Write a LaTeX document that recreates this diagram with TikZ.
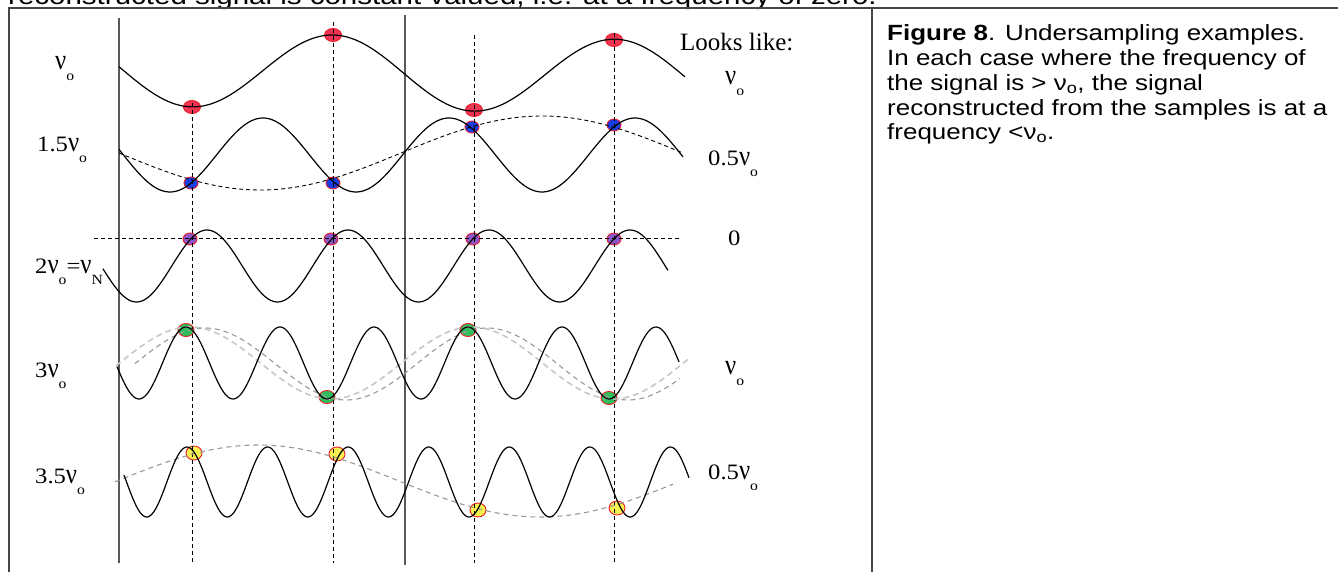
\documentclass[tikz,border=0pt]{standalone}
\usepackage{fontspec}
\usepackage{graphicx}
\setmainfont{Liberation Sans}[FakeStretch=1.18]
\newfontfamily\tms{Liberation Serif}[FakeStretch=1.12]
\newfontfamily\tmsplain{Liberation Serif}
\newcommand{\sbo}[1]{\raisebox{-11pt}{\fontsize{14}{14}\selectfont #1}}
\newcommand{\nuu}{\scalebox{1}[1.3]{ν}}
\definecolor{mred}{RGB}{240,52,84}
\definecolor{mblue}{RGB}{22,62,228}
\definecolor{mpurple}{RGB}{140,85,200}
\definecolor{mgreen}{RGB}{46,190,92}
\definecolor{myellow}{RGB}{246,240,80}
\definecolor{mrim}{RGB}{236,30,40}
\definecolor{framec}{RGB}{70,70,70}
\usetikzlibrary{shapes.geometric}
\tikzset{
  framel/.style={draw=framec, line width=1.3pt},
  axisl/.style={draw=framec!90, line width=1.3pt},
  vdash/.style={draw=black, line width=0.9pt, dash pattern=on 4pt off 3pt},
  sigl/.style={draw=black, line width=1.2pt},
  aliasl/.style={draw=black, line width=0.9pt, dash pattern=on 4pt off 3pt},
  galias/.style={draw=black!40, line width=1.1pt, dash pattern=on 5pt off 4pt},
  glight/.style={draw=black!22, line width=1.6pt, dash pattern=on 6pt off 4pt},
  mk/.style={ellipse, draw=mrim, line width=0.9pt, inner sep=0pt, minimum width=#1},
  labl/.style={anchor=base west, inner sep=0pt, font=\tms\fontsize{22}{22}\selectfont},
  captxt/.style={anchor=base west, inner sep=0pt, font=\fontsize{22}{24.7}\selectfont},
}
\begin{document}
\begin{tikzpicture}[x=1pt,y=-1pt]
\useasboundingbox (0,0) rectangle (1338,572);
\clip (0,0) rectangle (1338,572);
\fill[white] (0,0) rectangle (1338,572);

% body text line cut at top
\node[anchor=base west, inner sep=0pt, font=\fontsize{25}{28}\selectfont] (body) at (8,5) {reconstructed signal is constant valued, i.e. at a frequency of zero.};

% frame
\coordinate (fTL) at (9,8);
\coordinate (fTR) at (1338,8);
\coordinate (fBL) at (9,572);
\coordinate (fMT) at (872,8);
\coordinate (fMB) at (872,572);
\draw[framel] (fBL) -- (fTL) -- (fTR);
\draw[framel] (fMT) -- (fMB);

% markers (under lines)
\node[mk=17pt, minimum height=13pt, fill=mred] (m11) at (192,107) {};
\node[mk=17pt, minimum height=13pt, fill=mred] (m12) at (333,35) {};
\node[mk=17pt, minimum height=13pt, fill=mred] (m13) at (474,110) {};
\node[mk=17pt, minimum height=13pt, fill=mred] (m14) at (614,40) {};

\node[mk=14pt, minimum height=12pt, fill=mblue] (m21) at (191,183) {};
\node[mk=14pt, minimum height=12pt, fill=mblue] (m22) at (333,183) {};
\node[mk=14pt, minimum height=12pt, fill=mblue] (m23) at (472,127) {};
\node[mk=14pt, minimum height=12pt, fill=mblue] (m24) at (614,125) {};

\node[mk=14pt, minimum height=12pt, fill=mpurple] (m31) at (190,239) {};
\node[mk=14pt, minimum height=12pt, fill=mpurple] (m32) at (331,239) {};
\node[mk=14pt, minimum height=12pt, fill=mpurple] (m33) at (473,239) {};
\node[mk=14pt, minimum height=12pt, fill=mpurple] (m34) at (614,239) {};

\node[mk=16pt, minimum height=13pt, fill=mgreen] (m41) at (186,330) {};
\node[mk=16pt, minimum height=13pt, fill=mgreen] (m42) at (327,397) {};
\node[mk=16pt, minimum height=13pt, fill=mgreen] (m43) at (468,330) {};
\node[mk=16pt, minimum height=13pt, fill=mgreen] (m44) at (609,398) {};

\node[mk=16pt, minimum height=14pt, fill=myellow] (m51) at (194,453) {};
\node[mk=16pt, minimum height=14pt, fill=myellow] (m52) at (337,454) {};
\node[mk=16pt, minimum height=14pt, fill=myellow] (m53) at (478,510) {};
\node[mk=16pt, minimum height=14pt, fill=myellow] (m54) at (617,508) {};

% solid vertical lines
\coordinate (vA1) at (119,18);  \coordinate (vA2) at (119,563);
\coordinate (vB1) at (405,15);  \coordinate (vB2) at (405,565);
\draw[axisl] (vA1) -- (vA2);
\draw[axisl] (vB1) -- (vB2);

% dashed sample lines
\coordinate (d1t) at (192,103); \coordinate (d1b) at (192,563);
\coordinate (d2t) at (333,22);  \coordinate (d2b) at (333,563);
\coordinate (d3t) at (474,35);  \coordinate (d3b) at (474,563);
\coordinate (d4t) at (614,33);  \coordinate (d4b) at (614,563);
\draw[vdash] (d1t) -- (d1b);
\draw[vdash] (d2t) -- (d2b);
\draw[vdash] (d3t) -- (d3b);
\draw[vdash] (d4t) -- (d4b);

% row 1: nu_o
\draw[sigl] plot[domain=119:685, samples=200, smooth] (\x, {72+0.015*(\x-333)-37*cos((\x-333)/282*360)});

% row 2: 1.5 nu_o
\draw[aliasl] plot[domain=119:683, samples=160, smooth] (\x, {153+37*sin((\x-119)/564*360)});
\draw[sigl] plot[domain=119:683, samples=240, smooth] (\x, {155-37*cos((\x-263)/186*360)});

% row 3: 2 nu_o
\coordinate (h1) at (94,238); \coordinate (h2) at (680,238);
\draw[vdash] (h1) -- (h2);
\draw[sigl] plot[domain=103:668, samples=260, smooth] (\x, {266-36*cos((\x-207)/141*360)});

% row 4: 3 nu_o
\draw[glight] plot[domain=116:690, samples=160, smooth] (\x, {363-36*cos((\x-190)/282*360)});
\draw[galias] plot[domain=135:680, samples=160, smooth] (\x, {364-36*cos((\x-205)/282*360)});
\draw[sigl] plot[domain=117:679, samples=320, smooth] (\x, {363-36*cos((\x-186)/94*360)});

% row 5: 3.5 nu_o
\draw[galias] plot[domain=115:673, samples=160, smooth] (\x, {481-36*sin((\x-117)/564*360)});
\draw[sigl] plot[domain=124:689, samples=360, smooth] (\x, {482-35*cos((\x-187)/80.57*360)});

% left labels
\node[labl] (l1) at (55,70) {\nuu\sbo{o}};
\node[labl] (l2) at (37,152) {1.5\nuu\sbo{o}};
\node[labl] (l3) at (35,273) {2\nuu\sbo{o}=\nuu\sbo{N}};
\node[labl] (l4) at (35,377) {3\nuu\sbo{o}};
\node[labl] (l5) at (35,483) {3.5\nuu\sbo{o}};

% right labels
\node[labl, font=\tmsplain\fontsize{25}{25}\selectfont] (r0) at (680,51) {Looks like:};
\node[labl] (r1) at (725,85) {\nuu\sbo{o}};
\node[labl] (r2) at (708,166) {0.5\nuu\sbo{o}};
\node[labl] (r3) at (728,245) {0};
\node[labl] (r4) at (725,374) {\nuu\sbo{o}};
\node[labl] (r5) at (708,479) {0.5\nuu\sbo{o}};

% caption
\node[captxt] (c1) at (887,41) {\textbf{Figure 8}. Undersampling examples.};
\node[captxt] (c2) at (887,65.7) {In each case where the frequency of};
\node[captxt] (c3) at (887,90.4) {the signal is > ν\textsubscript{o}, the signal};
\node[captxt] (c4) at (887,115.1) {reconstructed from the samples is at a};
\node[captxt] (c5) at (887,139.8) {frequency <ν\textsubscript{o}.};
\end{tikzpicture}
\end{document}
